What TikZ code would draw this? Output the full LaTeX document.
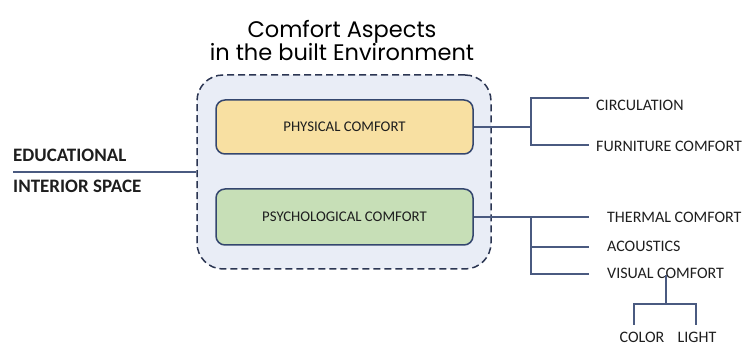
\documentclass[tikz,border=0pt]{standalone}
\usepackage{fontspec}
\setmainfont{Carlito}
\newfontfamily\titlefont{Poppins}
\usetikzlibrary{positioning}
\definecolor{envfill}{HTML}{E9EDF6}
\definecolor{envline}{HTML}{2B3552}
\definecolor{physfill}{HTML}{F8E0A2}
\definecolor{psyfill}{HTML}{C7DFB7}
\definecolor{boxline}{HTML}{34466E}
\definecolor{wire}{HTML}{4A5A80}
\definecolor{txt}{HTML}{1E1E1E}

\begin{document}
\begin{tikzpicture}[x=1pt,y=-1pt,
    outer/.style={draw=envline,fill=envfill,dash pattern=on 7pt off 4pt,line width=1.5pt,
      rounded corners=26pt,minimum width=294pt,minimum height=194pt},
    comp/.style={draw=boxline,line width=1.5pt,rounded corners=9pt,minimum width=257pt,
      text=txt,font=\fontsize{14.8}{17}\selectfont},
    leaf/.style={anchor=west,inner sep=0pt,text=txt,font=\fontsize{16}{19}\selectfont},
    side/.style={anchor=west,inner sep=0pt,text=txt,font=\fontsize{19}{22}\selectfont\bfseries},
    link/.style={draw=wire,line width=1.2pt}]
   \useasboundingbox (0,0) rectangle (748,347);
   % title and the dashed frame
   \node[align=center,text=black,font=\titlefont\fontsize{22.5}{23}\selectfont] (ttl) at (342,40.5)
      {Comfort Aspects\\in the built Environment};
   \node[outer] (env) at (344,172) {};
   \node[comp,fill=physfill,minimum height=54pt] (phy) at (344.5,127) {PHYSICAL COMFORT};
   \node[comp,fill=psyfill,minimum height=56pt] (psy) at (344.5,217) {PSYCHOLOGICAL COMFORT};
   % left side
   \node[side] (edu) at (13,155) {EDUCATIONAL};
   \node[side] (ins) at (13,186) {INTERIOR SPACE};
   \coordinate (e0) at (13,172);
   \path[link] (e0) -- (env.west);
   % physical branch
   \coordinate (j1) at (531,127);
   \coordinate (c1) at (589,98);
   \coordinate (f1) at (589,145);
   \node[leaf] (circ) at (596,105) {CIRCULATION};
   \node[leaf] (furn) at (596,146) {FURNITURE COMFORT};
   \path[link] (phy) -- (j1)
      (c1) -| (j1) |- (f1);
   % psychological branch
   \coordinate (j2) at (531,217);
   \coordinate (t1) at (589,217);
   \coordinate (a1) at (589,247);
   \coordinate (v1) at (589,274);
   \node[leaf] (therm) at (607,217) {THERMAL COMFORT};
   \node[leaf] (acou) at (607,246) {ACOUSTICS};
   \node[leaf] (vis) at (607,273) {VISUAL COMFORT};
   \path[link] (psy) -- (t1)
      (j2) |- (a1)
      (j2) |- (v1);
   % visual comfort
   \coordinate (v2) at (666,304);
   \coordinate (b1) at (634,325);
   \coordinate (b2) at (696,325);
   \node[leaf,anchor=center] (col) at (642,337.5) {COLOR};
   \node[leaf,anchor=center] (lig) at (697,337.5) {LIGHT};
   \path[link] ([yshift=3pt]vis.south -| v2) -- (v2)
      (b1) |- (v2) -| (b2);
\end{tikzpicture}
\end{document}
